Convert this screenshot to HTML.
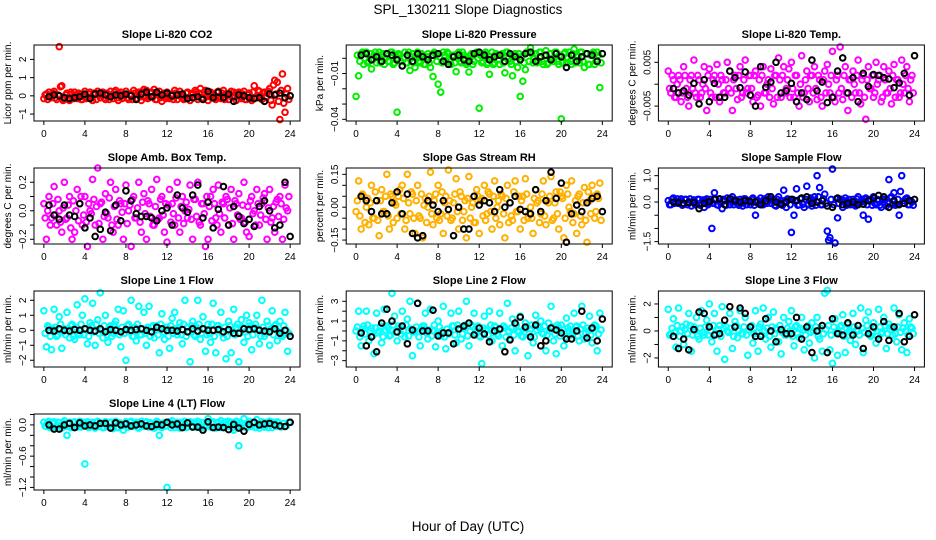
<!DOCTYPE html>
<html><head><meta charset="utf-8">
<style>
html,body{margin:0;padding:0;background:#fff;}
svg{display:block;font-family:"Liberation Sans",Arial,sans-serif;}
</style></head>
<body>
<svg id="chart" width="936" height="540" viewBox="0 0 936 540" xmlns="http://www.w3.org/2000/svg">
<rect width="936" height="540" fill="#fff"/>
<text x="468" y="14" font-size="13.5" text-anchor="middle">SPL_130211  Slope Diagnostics</text>
<text x="468" y="531" font-size="13.5" text-anchor="middle">Hour of Day (UTC)</text>
<g id="panels"></g>
</svg>
<script>
// shared sample times (hours)
const hoursColored = [0,0.25,0.5,0.75,1,1.25,1.5,1.75,2,2.25,2.5,2.75,3,3.25,3.5,3.75,4,4.25,4.5,4.75,5,5.25,5.5,5.75,6,6.25,6.5,6.75,7,7.25,7.5,7.75,8,8.25,8.5,8.75,9,9.25,9.5,9.75,10,10.25,10.5,10.75,11,11.25,11.5,11.75,12,12.25,12.5,12.75,13,13.25,13.5,13.75,14,14.25,14.5,14.75,15,15.25,15.5,15.75,16,16.25,16.5,16.75,17,17.25,17.5,17.75,18,18.25,18.5,18.75,19,19.25,19.5,19.75,20,20.25,20.5,20.75,21,21.25,21.5,21.75,22,22.25,22.5,22.75,23,23.25,23.5,23.75];
const hoursExtra = [0.125,0.375,0.625,0.875,1.125,1.375,1.625,1.875,2.125,2.375,2.625,2.875,3.125,3.375,3.625,3.875,4.125,4.375,4.625,4.875,5.125,5.375,5.625,5.875,6.125,6.375,6.625,6.875,7.125,7.375,7.625,7.875,8.125,8.375,8.625,8.875,9.125,9.375,9.625,9.875,10.125,10.375,10.625,10.875,11.125,11.375,11.625,11.875,12.125,12.375,12.625,12.875,13.125,13.375,13.625,13.875,14.125,14.375,14.625,14.875,15.125,15.375,15.625,15.875,16.125,16.375,16.625,16.875,17.125,17.375,17.625,17.875,18.125,18.375,18.625,18.875,19.125,19.375,19.625,19.875,20.125,20.375,20.625,20.875,21.125,21.375,21.625,21.875,22.125,22.375,22.625,22.875,23.125,23.375,23.625,23.875];
const hoursBlack = [0.5,1,1.5,2,2.5,3,3.5,4,4.5,5,5.5,6,6.5,7,7.5,8,8.5,9,9.5,10,10.5,11,11.5,12,12.5,13,13.5,14,14.5,15,15.5,16,16.5,17,17.5,18,18.5,19,19.5,20,20.5,21,21.5,22,22.5,23,23.5,24];
const xTicks = [0,4,8,12,16,20,24];

const co2All = [-0.15,0.1,0.2,-0.1, 0.25,-0.2,2.7,0.55, -0.2,0.15,-0.25,0.1, 0.2,-0.15,0.05,-0.2, 0.25,-0.1,0.2,-0.25, 0.15,0.25,-0.1,0.2, -0.2,0.1,0.25,-0.15, 0.3,-0.25,0.2,-0.1, 0.25,-0.2,0.1,0.3, -0.15,0.2,-0.25,0.35, 0.3,-0.1,0.2,0.35, -0.2,0.25,-0.3,0.15, 0.2,-0.15,0.1,0.3, -0.2,0.25,0.1,-0.15, 0.2,-0.25,0.15,0.3, -0.2,0.4,-0.1,0.3, -0.25,0.2,0.1,-0.2, 0.25,-0.15,0.3,0.1, -0.2,0.25,0.2,-0.25, 0.2,-0.15,0.25,-0.2, 0.15,-0.25,0.55,-0.1, 0.25,-0.2,0.2,0.15, 0.4,-0.5,0.85,0.75, -1.3,1.2,-0.9,0.4];
const co2Extra = [0.05,-0.2,-0.05,0.15, -0.1,0.05,0.5,-0.25, 0.05,-0.1,0.2,-0.15, -0.05,0.15,-0.2,0.05, -0.15,0.1,-0.05,0.15, -0.2,0.05,0.15,-0.1, 0.15,-0.2,0.05,0.2, -0.1,0.1,-0.15,0.05, -0.1,0.05,-0.2,0.15, 0.1,-0.05,0.2,-0.1, -0.15,0.15,-0.05,-0.2, 0.1,-0.1,0.05,-0.15, -0.1,0.05,-0.2,0.15, 0.1,-0.05,-0.2,0.15, -0.1,0.05,-0.1,0.2, 0.15,-0.15,0.2,-0.05, 0.1,-0.1,-0.15,0.2, -0.05,0.15,-0.2,0.05, 0.1,-0.1,-0.05,0.15, -0.05,0.1,-0.2,0.05, -0.15,0.2,-0.1,0.3, -0.05,0.15,-0.1,0.25, -0.25,0.6,0.1,-0.3, 0.3,-0.4,0.1,-0.2];
const co2Hourly = [-0.05,0.05,0,-0.1, -0.15,-0.1,-0.05,0.1, -0.15,0.1,0.15,0.05, -0.05,0.05,0,0.1, 0,-0.2,0.1,0.2, -0.05,0.2,0.05,0.15, 0,0.05,0.1,-0.15, -0.1,-0.05,-0.2,0.25, -0.1,0.2,-0.1,0.1, -0.3,0.05,0,-0.1, -0.15,-0.1,-0.3,0.1, 0.05,0.15,-0.1,0];

const presAll = [-0.025,-0.0115,0.003,-0.004, 0.004,-0.002,-0.007,0.002, -0.003,0.004,0.001,-0.004, 0.003,-0.002,0.004,-0.003, -0.0353,0.002,-0.005,0.004, -0.003,-0.008,0.003,-0.006, 0.004,-0.003,0.002,-0.004, 0.003,-0.006,-0.012,0.003, -0.017,-0.0222,0.004,-0.002, 0.003,-0.004,0.002,-0.0088, 0.004,-0.003,0.002,-0.004, -0.009,0.003,-0.002,0.004, -0.0327,-0.003,0.003,-0.004, -0.0105,0.004,-0.003,0.002, -0.004,0.003,-0.0095,0.004, -0.002,-0.0115,0.003,-0.006, -0.025,-0.015,-0.0075,0.004, 0.0069,-0.003,0.003,-0.002, 0.004,-0.004,0.005,-0.003, 0.003,-0.002,0.004,-0.004, -0.0397,0.003,-0.003,0.004, -0.004,0.006,0.002,-0.003, 0.004,-0.006,0.003,-0.004, 0.003,-0.004,0.004,-0.0192];
const presExtra = [0.002,-0.002,0.004,0.0, -0.003,0.003,-0.001,0.004, 0.002,-0.003,0.003,0.0, -0.002,0.004,-0.004,0.002, 0.003,-0.002,0.0,-0.003, 0.004,0.001,-0.003,0.002, -0.002,0.003,-0.004,0.001, -0.003,0.002,0.004,-0.002, 0.001,-0.003,0.002,0.004, -0.002,0.001,-0.003,0.003, -0.002,0.004,0.0,-0.003, 0.002,-0.004,0.003,0.0, 0.002,-0.002,0.004,-0.003, 0.001,-0.004,0.003,-0.001, 0.002,-0.003,0.004,0.0, -0.004,0.002,-0.002,0.003, 0.001,-0.003,0.004,-0.002, 0.003,0.0,-0.003,0.004, -0.002,0.002,-0.004,0.003, 0.0,0.004,-0.002,0.002, -0.003,0.004,0.0,-0.002, 0.003,-0.003,0.001,0.004, -0.002,0.003,-0.004,0.002, 0.004,-0.002,0.002,-0.003];
const presHourly = [0.002,0.003,-0.001,0.001, -0.002,0.003,0.002,-0.001, -0.005,0.002,-0.002,0.003, 0.001,-0.001,0.002,0.003, -0.002,-0.004,0.001,0.002, -0.001,-0.002,0.003,0.004, 0.002,-0.001,0.001,0.002, -0.002,0.003,0.001,-0.001, 0.003,0.004,-0.002,0.001, 0.002,-0.001,0.003,0.001, -0.006,0.002,-0.002,0.001, 0.003,0.002,-0.002,0.003];

const tempAll = [0.003,-0.002,0.001,-0.003, 0.002,-0.004,0.004,-0.001, -0.005,0.002,0.0055,-0.003, 0.001,-0.002,0.004,-0.006, 0.0035,-0.003,0.002,0.0045, -0.004,0.001,-0.002,0.005, 0.003,-0.006,0.002,-0.0035, 0.004,-0.002,0.0055,-0.001, 0.002,-0.004,0.003,-0.0025, -0.005,0.004,-0.002,0.001, 0.0035,-0.0045,0.002,0.006, -0.003,0.004,-0.001,0.0035, 0.005,-0.003,0.002,-0.005, 0.0065,-0.002,0.003,-0.004, 0.002,0.004,-0.0035,0.001, -0.005,0.003,0.0045,-0.002, 0.0075,-0.004,0.002,0.0085, -0.0035,0.004,-0.006,0.001, 0.003,-0.002,0.0055,-0.0045, 0.002,-0.008,0.004,-0.001, -0.003,0.005,0.001,-0.004, 0.004,-0.002,0.003,-0.0045, 0.0045,0.001,-0.003,0.0055, -0.002,0.004,-0.004,0.002];
const tempExtra = [-0.001,0.002,-0.003,0.0, 0.001,-0.002,0.002,-0.003, 0.001,-0.001,-0.002,0.002, -0.003,0.0,-0.001,0.002, -0.002,0.001,-0.003,0.0, 0.002,-0.002,0.001,-0.001, -0.002,0.001,-0.001,0.002, -0.003,0.001,-0.002,0.002, -0.001,0.002,-0.003,0.001, 0.002,-0.002,0.0,-0.003, -0.001,0.002,-0.003,0.001, 0.002,-0.002,0.001,-0.003, -0.001,0.002,-0.002,0.0, -0.003,0.001,-0.001,0.002, -0.002,-0.001,0.002,-0.003, 0.001,-0.002,0.0,0.002, -0.003,0.001,-0.002,-0.001, 0.002,-0.002,0.001,-0.003, 0.0,0.002,-0.002,0.001, -0.003,0.001,-0.001,0.002, -0.002,0.0,0.002,-0.003, 0.001,-0.002,-0.001,0.002, -0.003,0.001,-0.002,0.0, 0.002,-0.001,0.001,-0.002];
const tempHourly = [-0.001,-0.002,-0.0015,-0.0025,0.0002, -0.0045,0.001,-0.004,0.0002,-0.003, -0.003,0.003,0.0015,-0.0008,0.0028, -0.0025,-0.005,0.004,-0.0007,0.0005, 0.005,-0.002,-0.0015,0.0002, -0.004,-0.002,-0.0035,0.0055,-0.0015, 0.0005,-0.0042,-0.003,0.003,0.006, -0.002,0.0015,-0.004,0.0025,-0.0005, 0.0022,0.002,0.0015,0.0012,-0.0008, 0.0003,0.0025,-0.0025,0.0065];

const boxAll = [0.05,-0.2,0.1,-0.05, 0.17,-0.1,0.0,-0.15, 0.2,-0.05,0.1,-0.2, -0.15,0.15,0.05,-0.1, 0.1,-0.25,0.0,0.22, -0.1,0.3,0.05,-0.2, 0.12,-0.05,0.2,-0.15, 0.15,-0.1,0.05,-0.2, 0.18,0.0,-0.25,0.1, -0.05,0.2,-0.15,0.12, -0.2,0.05,0.15,-0.1, 0.22,-0.05,0.1,-0.15, -0.22,0.15,0.05,-0.1, 0.2,-0.15,0.1,0.0, -0.05,0.18,-0.2,0.08, 0.2,-0.1,0.05,-0.25, -0.2,0.1,0.15,-0.05, 0.18,-0.15,0.05,0.1, -0.1,0.15,-0.2,0.05, 0.12,-0.05,0.2,-0.15, -0.18,0.1,0.0,0.15, -0.1,0.05,0.12,-0.2, 0.15,-0.05,-0.15,0.08, 0.1,-0.2,0.18,0.0, -0.1,0.28,0.15,-0.05];
const boxExtra = [-0.05,0.0,-0.1,0.05, -0.03,0.08,-0.08,0.02, -0.06,0.04,-0.12,0.07, 0.0,-0.07,0.1,-0.03, -0.08,0.05,-0.02,0.08, 0.03,-0.09,0.06,-0.04, -0.02,0.09,-0.1,0.03, -0.06,0.07,-0.01,0.05, -0.09,0.04,0.08,-0.05, 0.02,-0.08,0.06,-0.02, 0.07,-0.04,-0.1,0.03, -0.06,0.08,-0.03,0.05, 0.04,-0.08,-0.02,0.09, -0.05,0.03,-0.09,0.06, 0.01,-0.06,0.08,-0.04, -0.08,0.05,-0.02,0.1, 0.03,-0.07,0.05,-0.1, -0.02,0.06,-0.05,0.08, 0.02,-0.09,0.07,-0.03, -0.06,0.04,-0.08,0.03, 0.07,-0.02,-0.1,0.05, -0.03,0.09,-0.06,0.02, -0.08,0.03,0.06,-0.04, 0.05,-0.06,0.02,0.1];
const boxHourly = [0.04,-0.03,-0.06,0.04, -0.03,-0.04,0.05,-0.12, -0.05,-0.18,-0.13,-0.01, -0.14,0.04,-0.07,0.14, 0.07,-0.02,-0.04,-0.04, -0.05,-0.07,0.0,0.02, -0.1,0.11,0.02,-0.01, 0.11,0.18,-0.05,0.06, -0.12,0.01,0.17,-0.1, 0.03,-0.04,-0.09,-0.06, -0.11,0.03,0.07,0.0, -0.12,-0.1,0.2,-0.18];

const rhAll = [-0.02,0.12,-0.1,0.05, 0.0,-0.08,0.1,-0.05, 0.03,-0.13,0.08,-0.02, 0.15,-0.1,0.05,0.02, -0.05,0.08,0.1,-0.1, 0.15,-0.03,0.06,-0.12, 0.1,-0.05,-0.14,0.04, 0.0,0.16,-0.08,0.06, 0.1,-0.03,-0.12,0.05, 0.17,-0.06,0.02,0.13, -0.1,0.05,-0.02,-0.14, 0.14,0.0,-0.07,0.08, -0.12,0.04,0.1,-0.03, 0.06,-0.1,0.12,0.0, -0.08,0.05,-0.14,0.1, 0.02,-0.06,0.12,-0.02, -0.1,0.05,0.13,-0.05, 0.0,-0.12,0.08,0.03, -0.03,0.12,-0.08,0.02, 0.14,-0.05,0.07,-0.1, 0.05,-0.14,0.1,0.0, 0.12,-0.03,-0.12,0.06, -0.08,0.09,-0.16,0.03, 0.1,-0.05,0.06,0.11];
const rhExtra = [0.03,-0.04,0.06,-0.07, 0.04,0.02,-0.05,0.07, -0.06,0.03,-0.02,0.05, -0.04,0.06,-0.07,0.01, 0.05,-0.03,0.04,-0.06, 0.02,0.07,-0.05,0.03, -0.04,0.06,0.01,-0.07, 0.05,-0.03,0.03,-0.05, -0.06,0.07,0.02,-0.04, 0.03,-0.05,0.06,-0.02, 0.07,-0.06,0.03,0.04, -0.05,0.02,-0.07,0.05, 0.03,-0.04,-0.06,0.07, -0.02,0.05,-0.05,0.03, 0.06,-0.03,0.04,-0.07, -0.04,0.07,-0.02,0.05, 0.03,-0.06,0.06,-0.03, -0.05,0.04,0.02,-0.07, 0.06,-0.04,0.03,0.05, -0.06,0.02,-0.03,0.07, 0.04,-0.05,0.06,-0.02, -0.07,0.03,0.05,-0.04, 0.02,-0.06,0.07,-0.03, 0.05,-0.02,0.04,-0.06];
const rhHourly = [0.05,0.03,-0.02,0.03, -0.03,-0.03,0.02,0.07, -0.03,0.06,-0.12,-0.14, -0.13,0.03,0.01,-0.02, 0.03,-0.01,-0.13,0.0, -0.1,-0.1,0.05,0.01, 0.03,0.02,-0.02,0.08, 0.0,0.02,0.05,-0.01, -0.02,-0.03,0.08,-0.02, 0.03,0.16,0.04,0.11, -0.16,-0.03,0.01,-0.02, 0.02,0.04,0.05,-0.02];

const sampAll = [0.05,-0.1,0.15,0.0, -0.05,0.12,-0.08,0.1, 0.0,-0.15,0.08,-0.05, 0.1,-0.05,-0.2,0.12, -0.05,-1.0,0.35,-0.1, 0.12,-0.25,0.05,0.15, -0.1,0.2,0.0,-0.05, 0.1,-0.15,0.12,0.05, -0.1,0.15,-0.5,0.05, 0.15,-0.1,0.0,0.2, -0.05,0.1,-0.15,0.2, 0.05,0.45,-0.2,0.1, -1.15,-0.5,0.5,-0.1, 0.15,-0.2,0.6,0.05, -0.15,0.2,1.0,0.55, -0.1,0.3,-1.1,-1.35, 1.25,-1.55,-0.6,0.1, -0.2,0.15,0.0,-0.1, 0.1,-0.15,0.2,0.0, -0.5,0.15,-0.65,0.1, 0.2,-0.1,0.05,-0.2, 0.1,-0.15,0.85,0.2, 0.35,-0.1,-0.5,1.0, 0.05,0.15,-0.1,0.0];
const sampExtra = [-0.1,0.1,-0.05,0.12, 0.05,-0.12,0.1,-0.1, 0.12,0.0,-0.1,0.1, -0.12,0.08,0.05,-0.1, 0.1,-0.05,0.12,-0.12, -0.05,0.1,-0.12,0.05, 0.12,-0.1,0.08,-0.12, -0.05,0.12,-0.1,0.05, 0.1,-0.12,0.05,-0.08, -0.1,0.12,-0.05,0.1, 0.08,-0.12,0.1,-0.05, -0.12,0.05,0.12,-0.1, 0.1,0.05,-0.12,0.12, -0.08,0.1,-0.1,0.15, 0.05,-0.12,0.2,-0.1, 0.12,-0.05,-1.45,0.1, -0.1,0.12,-0.05,0.1, 0.05,-0.12,0.1,-0.08, -0.1,0.12,-0.05,0.1, 0.12,-0.1,0.05,-0.12, -0.05,0.1,-0.12,0.12, 0.1,-0.05,0.15,-0.1, -0.12,0.1,0.4,-0.05, 0.12,-0.1,0.05,-0.12];
const sampHourly = [0.0,-0.02,-0.05,-0.02, -0.02,-0.25,-0.05,0.02, 0.1,0.12,-0.1,0.12, 0.05,0.0,0.05,0.02, 0.0,-0.1,0.05,0.2, 0.0,-0.08,0.0,0.1, 0.05,0.15,0.2,-0.05, 0.0,0.05,-0.15,-0.2, 0.15,-0.1,-0.05,0.0, -0.1,-0.08,0.05,0.15, 0.25,0.2,-0.2,0.05, -0.1,-0.05,0.05,0.1];

const l1All = [1.3,-1.1,0.2,-1.3, 1.4,-0.4,0.9,-1.2, 0.1,1.2,-0.5,0.4, -0.6,1.7,-0.3,1.0, 2.1,-0.9,0.5,1.8, -1.0,0.7,2.5,-0.5, 1.0,-0.8,0.3,-0.2, 0.6,1.4,-1.1,1.3, -2.0,0.4,2.0,-0.4, -0.7,1.6,-0.3,1.2, -1.0,1.6,0.2,-0.5, 0.3,-1.5,1.1,-0.6, 0.2,-1.2,0.8,1.2, -0.3,0.5,-0.9,2.0, 0.2,-2.1,0.6,-0.4, 2.0,-0.6,0.9,-1.4, 0.4,-0.8,1.8,-1.5, 0.3,1.2,-0.5,-1.9, 0.6,-1.5,1.4,0.2, -2.1,0.7,-0.8,1.0, 0.5,-1.3,0.2,1.0, -0.9,2.0,-0.4,0.6, -1.0,1.3,0.3,-0.7, 0.6,-0.4,1.2,-1.4, 0.2,2.2,-1.0,1.5];
const l1Extra = [-0.2,0.3,-0.4,0.1, 0.2,-0.3,0.4,-0.1, -0.3,0.1,0.3,-0.4, 0.2,-0.2,0.4,-0.3, 0.1,-0.4,0.3,-0.1, 0.4,-0.2,0.0,0.3, -0.3,0.2,-0.4,0.4, 0.1,-0.3,0.2,-0.2, 0.3,-0.1,-0.4,0.2, 0.4,-0.3,0.1,-0.2, 0.2,-0.4,0.3,0.0, -0.3,0.4,-0.1,0.2, -0.4,0.3,-0.2,0.1, 0.2,-0.3,0.4,-0.4, -0.1,0.3,-0.3,0.2, 0.4,-0.2,0.1,-0.3, -0.2,0.4,-0.4,0.3, 0.1,-0.2,0.2,-0.4, 0.3,0.0,-0.3,0.4, -0.2,0.2,-0.1,-0.4, 0.3,-0.3,0.4,0.1, -0.4,0.2,-0.2,0.3, 0.1,-0.3,0.4,-0.1, -0.3,0.3,0.0,-0.2];
const l1Hourly = [0.0,-0.05,0.1,0.0, -0.05,0.05,0.0,0.1, 0.0,-0.05,0.1,-0.1, 0.05,0.0,-0.1,0.05, 0.0,0.05,0.1,0.0, -0.1,0.2,0.1,0.0, 0.0,-0.05,0.05,-0.1, 0.1,-0.05,0.1,0.0, 0.0,0.05,-0.1,0.05, -0.2,-0.2,0.1,0.05, 0.1,0.0,-0.05,-0.1, 0.1,-0.2,0.0,-0.4];

const l2All = [0.0,2.0,-1.5,0.5, 2.0,-1.0,0.3,-2.3, 1.8,0.0,-1.2,2.2, 0.5,-0.5,3.8,1.5, -1.0,0.3,2.0,-0.6, 1.2,3.0,-2.5,0.0, 2.8,-1.5,0.5,1.8, -0.8,2.2,0.0,-1.6, 1.0,-0.5,2.5,-1.8, -0.3,1.8,0.5,-1.2, 2.0,-0.8,0.3,3.0, -1.5,0.6,1.8,0.0, -0.5,-3.3,1.5,0.2, 2.0,-1.0,0.5,-0.3, 1.8,-1.5,0.3,2.8, -0.8,1.2,-2.0,0.0, 1.5,-0.6,0.8,-2.5, 0.2,-1.2,1.6,0.5, 1.0,-0.3,-2.0,0.8, 2.5,-1.0,-2.3,0.4, 0.6,-1.5,1.3,0.0, -0.4,1.8,0.5,-1.0, 2.5,-0.8,0.3,1.5, -1.2,0.6,-2.0,1.8];
const l2Extra = [0.4,-0.6,0.2,-0.3, 0.6,0.0,-0.5,0.3, -0.2,0.5,-0.6,0.1, 0.3,-0.4,0.6,-0.1, 0.5,-0.3,0.0,0.6, -0.5,0.2,-0.1,0.4, -0.6,0.3,0.5,-0.2, 0.1,-0.5,0.6,-0.3, 0.4,0.0,-0.6,0.2, -0.1,0.5,-0.4,0.6, 0.2,-0.3,0.6,-0.5, 0.0,0.4,-0.2,0.5, -0.6,0.3,0.1,-0.4, 0.6,-0.2,0.4,-0.5, 0.2,0.5,-0.6,0.0, 0.3,-0.4,0.6,-0.1, -0.5,0.2,0.4,-0.3, 0.6,-0.6,0.1,0.3, -0.2,0.5,-0.4,0.0, 0.4,-0.3,0.6,-0.5, 0.1,-0.6,0.3,0.5, -0.1,0.4,-0.5,0.2, 0.6,-0.2,0.0,-0.4, 0.3,0.5,-0.3,0.1];
const l2Hourly = [-0.2,-1.5,-0.6,-2.1, 0.8,2.2,1.0,-0.1, 0.5,-1.3,0.1,2.8, 0.0,0.0,2.1,-0.5, -0.2,-0.2,-1.3,0.2, 0.5,0.8,-0.4,0.3, -0.3,-1.1,0.0,0.2, -2.1,-0.9,0.8,1.4, 0.4,-0.6,0.6,-1.5, -1.0,0.3,0.1,-0.2, -0.8,-0.8,0.0,2.0, -0.7,0.3,-1.0,1.2];

const l3All = [1.6,-0.2,0.9,-1.2, 1.7,0.0,-1.0,0.5, 1.3,-1.5,0.3,1.0, -0.6,1.5,-0.3,0.8, 2.0,-0.8,1.3,-1.5, 0.4,1.8,-2.1,0.0, 1.3,-1.3,0.7,-0.5, 1.5,-0.2,1.0,-1.8, 0.3,-0.9,1.5,-1.5, 0.5,1.7,-0.6,1.0, -1.2,1.4,0.2,-0.8, -1.7,1.0,-0.3,0.7, 1.5,-1.1,0.4,-0.5, 1.0,-1.4,0.2,-0.9, 0.6,-2.0,1.0,-0.6, -1.5,2.8,3.0,-1.4, -2.4,0.9,-1.8,0.3, 1.2,-1.6,0.5,-0.7, 1.3,-1.0,0.0,1.7, -1.6,0.8,1.4,-0.4, 0.6,-0.9,1.6,-0.2, 1.0,-1.3,0.5,0.3, 1.7,-0.8,1.2,-1.4, 0.6,-1.6,0.9,0.2];
const l3Extra = [-0.3,0.2,-0.1,0.4, -0.4,0.3,0.1,-0.2, 0.4,-0.3,0.0,-0.4, 0.2,-0.1,0.3,-0.3, 0.0,0.4,-0.2,0.1, -0.4,0.2,0.3,-0.1, 0.2,-0.4,0.4,0.0, -0.2,0.3,-0.3,0.1, 0.4,-0.2,-0.1,0.3, -0.3,0.0,0.2,-0.4, 0.3,-0.2,0.1,0.4, -0.1,-0.3,0.2,0.0, -0.4,0.3,-0.2,0.2, 0.1,-0.3,0.4,-0.1, 0.0,0.3,-0.4,0.2, -0.2,0.1,0.4,-0.3, 0.3,-0.1,-0.2,0.4, -0.4,0.2,0.0,-0.2, 0.3,0.1,-0.3,0.2, -0.1,0.4,-0.3,0.0, 0.2,-0.4,0.3,-0.1, 0.4,-0.2,0.1,-0.3, -0.2,0.3,-0.1,0.2, 0.0,-0.3,0.3,-0.2];
const l3Hourly = [-0.4,-1.3,-0.6,-1.4, 0.1,1.4,1.3,0.3, -0.3,-0.2,0.8,1.8, 0.3,1.7,1.3,0.3, -0.4,-0.4,0.9,0.0, -0.8,0.1,-0.2,-0.2, 1.0,-0.6,0.3,-1.6, 0.0,0.4,-1.6,0.9, -0.2,-0.3,0.6,-0.3, 0.4,-1.3,-0.2,0.3, -0.6,0.7,-0.7,0.3, 1.3,-0.8,-0.4,1.2];

const l4All = [0.05,-0.03,0.07,-0.05, 0.06,-0.02,0.04,-0.06, 0.08,-0.2,0.05,-0.03, 0.06,-0.04,0.07,0.0, -0.75,0.06,-0.04,0.05, -0.06,0.07,0.02,-0.05, 0.06,-0.03,0.05,-0.07, 0.07,-0.05,0.03,-0.1, 0.06,-0.04,0.07,-0.02, 0.05,-0.06,0.07,-0.03, 0.06,-0.04,0.02,-0.06, 0.07,-0.2,-0.05,0.04, -1.2,0.06,0.08,-0.05, 0.05,-0.06,0.03,0.07, -0.04,0.06,-0.02,0.05, 0.07,-0.05,0.04,-0.03, 0.12,-0.04,0.06,-0.06, 0.05,0.08,-0.03,0.06, 0.07,0.05,-0.1,0.07, -0.4,-0.04,0.12,-0.05, 0.07,-0.03,0.05,0.1, -0.06,0.06,-0.04,0.05, 0.07,-0.05,0.03,0.06];
const l4Extra = [-0.02,0.04,-0.05,0.03, -0.04,0.05,-0.01,0.04, -0.03,0.02,-0.05,0.05, -0.02,0.03,-0.04,0.05, 0.02,-0.05,0.04,-0.02, 0.05,-0.03,0.03,-0.05, -0.02,0.05,-0.04,0.02, -0.05,0.04,-0.02,0.03, -0.04,0.05,-0.03,0.02, -0.05,0.03,-0.02,0.05, -0.03,0.04,-0.05,0.02, 0.05,-0.04,0.03,-0.02, 0.04,-0.05,0.02,0.03, -0.04,0.05,-0.02,-0.05, 0.03,-0.03,0.05,-0.04, 0.02,0.04,-0.05,0.05, -0.02,0.03,-0.04,0.04, -0.05,0.02,0.05,-0.03, 0.03,-0.05,0.04,-0.02, 0.05,0.02,-0.04,0.03, -0.03,0.05,-0.05,0.02, 0.04,-0.02,0.03,-0.05, 0.02,0.05,-0.03,0.04, -0.04,0.03,-0.02,0.05];
const l4Hourly = [0.0,-0.08,-0.08,0.0, 0.03,-0.05,0.04,-0.02, 0.0,-0.02,0.03,0.03, -0.06,0.04,0.0,0.02, -0.02,0.0,0.02,-0.02, -0.03,0.01,0.0,0.05, 0.0,0.02,-0.05,0.04, -0.04,-0.04,-0.1,0.06, -0.05,-0.04,-0.05,-0.09, 0.01,-0.06,-0.12,0.01, 0.05,0.0,0.02,0.03, 0.0,-0.02,-0.03,0.05];

const panelTitles = ["Slope Li-820 CO2","Slope Li-820 Pressure","Slope Li-820 Temp.","Slope Amb. Box Temp.","Slope Gas Stream RH","Slope Sample Flow","Slope Line 1 Flow","Slope Line 2 Flow","Slope Line 3 Flow","Slope Line 4 (LT) Flow"];
const yTitles = ["Licor ppm per min.","kPa per min.","degrees C per min.","degrees C per min.","percent per min.","ml/min per min.","ml/min per min.","ml/min per min.","ml/min per min.","ml/min per min."];
const yTickVals = [[-1,0,1,2],[-0.04,-0.03,-0.02,-0.01,0],[-0.005,0,0.005],[-0.2,-0.1,0,0.1,0.2],[-0.15,-0.1,-0.05,0,0.05,0.1,0.15],[-1.5,-1,-0.5,0,0.5,1],[-2,-1,0,1,2],[-3,-2,-1,0,1,2,3],[-2,-1,0,1,2],[-1.2,-1,-0.8,-0.6,-0.4,-0.2,0,0.2]];
const yTickLabels = [["\u22121","0","1","2"],["\u22120.04","","","\u22120.01",""],["\u22120.005","","0.005"],["\u22120.2","","0.0","","0.2"],["\u22120.15","","","0.00","","","0.15"],["\u22121.5","","","0.0","","1.0"],["\u22122","\u22121","0","1","2"],["\u22123","","\u22121","","1","","3"],["\u22122","","0","","2"],["\u22121.2","","","\u22120.6","","","0.0",""]];
const allSeries = [co2All,presAll,tempAll,boxAll,rhAll,sampAll,l1All,l2All,l3All,l4All];
const extraSeries = [co2Extra,presExtra,tempExtra,boxExtra,rhExtra,sampExtra,l1Extra,l2Extra,l3Extra,l4Extra];
const hourlySeries = [co2Hourly,presHourly,tempHourly,boxHourly,rhHourly,sampHourly,l1Hourly,l2Hourly,l3Hourly,l4Hourly];

const colors = ["#ff0000","#00ee00","#ff00ff","#ff00ff","#ffb000","#0000ff","#00ffff","#00ffff","#00ffff","#00ffff"];
const yLims = [[-1.38,2.79],[-0.0411,0.0087],[-0.0084,0.00895],[-0.233,0.30],[-0.168,0.179],[-1.59,1.29],[-2.45,2.62],[-3.64,4.04],[-2.67,2.96],[-1.25,0.21]];

const NS = "http://www.w3.org/2000/svg";
const root = document.getElementById('panels');
const BW = 266, BH = 76;
function mk(tag, attrs, parent){
  const e = document.createElementNS(NS, tag);
  for (const k in attrs) e.setAttribute(k, attrs[k]);
  parent.appendChild(e);
  return e;
}
for (let p = 0; p < 10; p++){
  const col = p % 3, row = Math.floor(p / 3);
  const L = 34 + col * 312.2, T = 45 + row * 123;
  const g = mk('g', {}, root);
  
  
  const xs = v => L + (v + 0.96) / 25.92 * BW;
  const yl = yLims[p];
  const ys = v => T + BH - (v - yl[0]) / (yl[1] - yl[0]) * BH;
  const t = mk('text', {x: L + BW / 2, y: T - 7, 'font-size': 11, 'font-weight': 'bold', 'text-anchor': 'middle'}, g);
  t.textContent = panelTitles[p];
  
  
  const yt = mk('text', {x: 0, y: 0, 'font-size': 10, 'text-anchor': 'middle', transform: 'translate(' + (L - 23) + ',' + (T + BH / 2) + ') rotate(-90)'}, g);
  yt.textContent = yTitles[p];
  
  
  const pg = mk('g', {fill: 'none', 'stroke-width': 2}, g);
  
  
  const A = allSeries[p], nA = Math.min(A.length, hoursColored.length);
  for (let i = 0; i < nA; i++){
    const c = mk('circle', {cx: xs(hoursColored[i]), cy: ys(A[i]), r: 2.8, stroke: colors[p]}, pg);
    
    
  }
  const E = extraSeries[p], nE = Math.min(E.length, hoursExtra.length);
  for (let i = 0; i < nE; i++){
    const c = mk('circle', {cx: xs(hoursExtra[i]), cy: ys(E[i]), r: 2.8, stroke: colors[p]}, pg);
    
    
  }
  const bg = mk('g', {fill: 'none', 'stroke-width': 2, stroke: '#000'}, g);
  
  
  const B = hourlySeries[p], nB = Math.min(B.length, hoursBlack.length);
  for (let i = 0; i < nB; i++){
    const c = mk('circle', {cx: xs(hoursBlack[i]), cy: ys(B[i]), r: 2.8}, bg);
    
    
  }
  const box = mk('rect', {x: L, y: T, width: BW, height: BH, fill: 'none', stroke: '#000', 'stroke-width': 1}, g);
  
  
  const xa = mk('g', {}, g);
  
  
  mk('line', {x1: xs(xTicks[0]), x2: xs(xTicks[xTicks.length - 1]), y1: T + BH, y2: T + BH, stroke: '#000'}, xa);
  xTicks.forEach(v => {
    mk('line', {x1: xs(v), x2: xs(v), y1: T + BH, y2: T + BH + 4, stroke: '#000'}, xa);
    const tl = mk('text', {x: xs(v), y: T + BH + 16, 'font-size': 10, 'text-anchor': 'middle'}, xa);
    tl.textContent = String(v);
    
    
  });
  const ya = mk('g', {}, g);
  
  
  const tv = yTickVals[p], tlb = yTickLabels[p];
  tv.forEach((v, i) => {
    const y = ys(v);
    mk('line', {x1: L - 4, x2: L, y1: y, y2: y, stroke: '#000'}, ya);
    if (tlb[i]){
      const tl = mk('text', {x: 0, y: 0, 'font-size': 10, 'text-anchor': 'middle', transform: 'translate(' + (L - 8) + ',' + y + ') rotate(-90)'}, ya);
      tl.textContent = tlb[i];
      
      
    }
  });
}
</script>
</body></html>
